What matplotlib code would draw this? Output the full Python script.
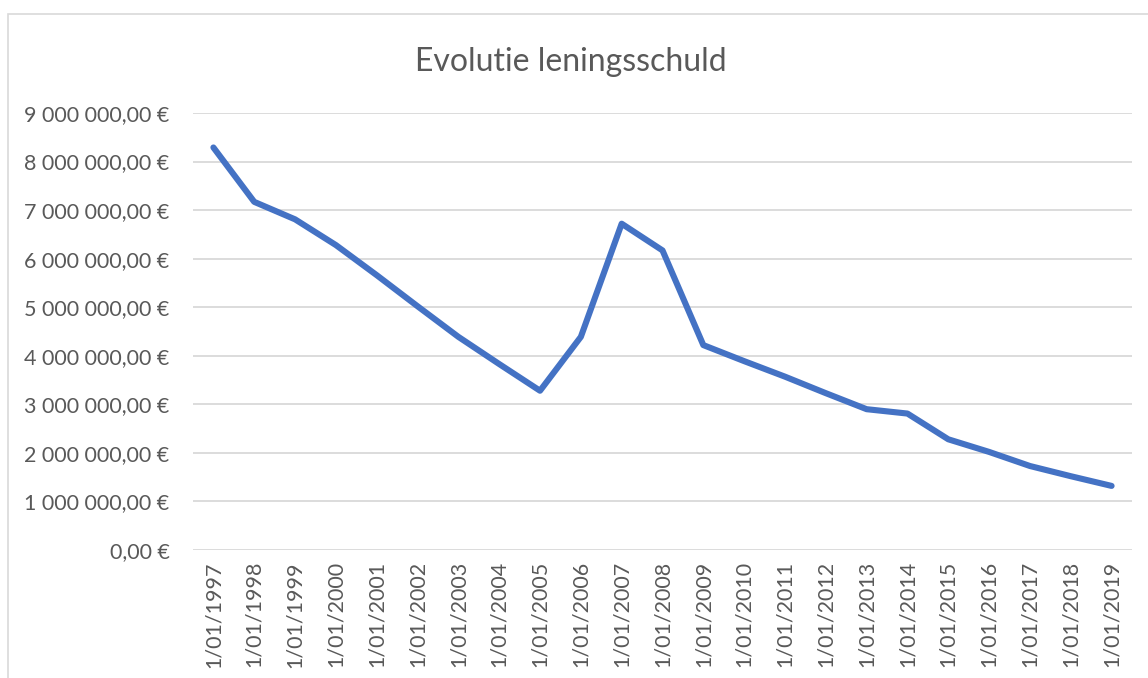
import matplotlib
matplotlib.use("Agg")
import matplotlib.pyplot as plt
from matplotlib.ticker import FuncFormatter, MultipleLocator
from matplotlib.patches import Rectangle

plt.rcParams['font.family'] = ['Lato', 'DejaVu Sans']

years = list(range(1997, 2020))
labels = ["1/01/%d" % y for y in years]
debt = [8290000, 7170000, 6810000, 6280000, 5660000, 5020000, 4390000, 3830000,
        3280000, 4390000, 6720000, 6170000, 4220000, 3890000, 3570000, 3230000,
        2900000, 2810000, 2280000, 2020000, 1730000, 1520000, 1320000]

GREY = '#595959'


def euro(v, pos):
    s = "{:,.2f}".format(v)
    s = s.replace(",", " ").replace(".", ",")
    return s + " €"


fig = plt.figure(figsize=(11.48, 6.78), dpi=100)
fig.patches.append(Rectangle((8 / 1148, -0.1), 1.2, 1 - 14 / 678 + 0.1,
                             transform=fig.transFigure, fill=False,
                             edgecolor='#d9d9d9', lw=1.2))

ax = fig.add_axes([193 / 1148, 1 - 550 / 678, 939 / 1148, 437 / 678])
x = list(range(len(years)))
ax.plot(x, debt, color='#4472C4', lw=4.4, solid_joinstyle='round',
        solid_capstyle='round', zorder=3)

ax.set_xlim(-0.5, len(years) - 0.5)
ax.set_ylim(0, 9000000)
ax.yaxis.set_major_locator(MultipleLocator(1000000))
ax.yaxis.set_major_formatter(FuncFormatter(euro))
ax.grid(axis='y', color='#d9d9d9', lw=1.3)
ax.set_axisbelow(True)
for s in ax.spines.values():
    s.set_visible(False)

ax.set_xticks(x)
ax.set_xticklabels(labels, rotation=90)
ax.tick_params(length=0, labelsize=15.5, colors=GREY)
ax.tick_params(axis='y', pad=17)
ax.tick_params(axis='x', pad=8)

fig.text(0.497, 0.908, "Evolutie leningsschuld", ha='center', va='center',
         fontsize=23, color=GREY)

fig.savefig("out.png", dpi=100)
